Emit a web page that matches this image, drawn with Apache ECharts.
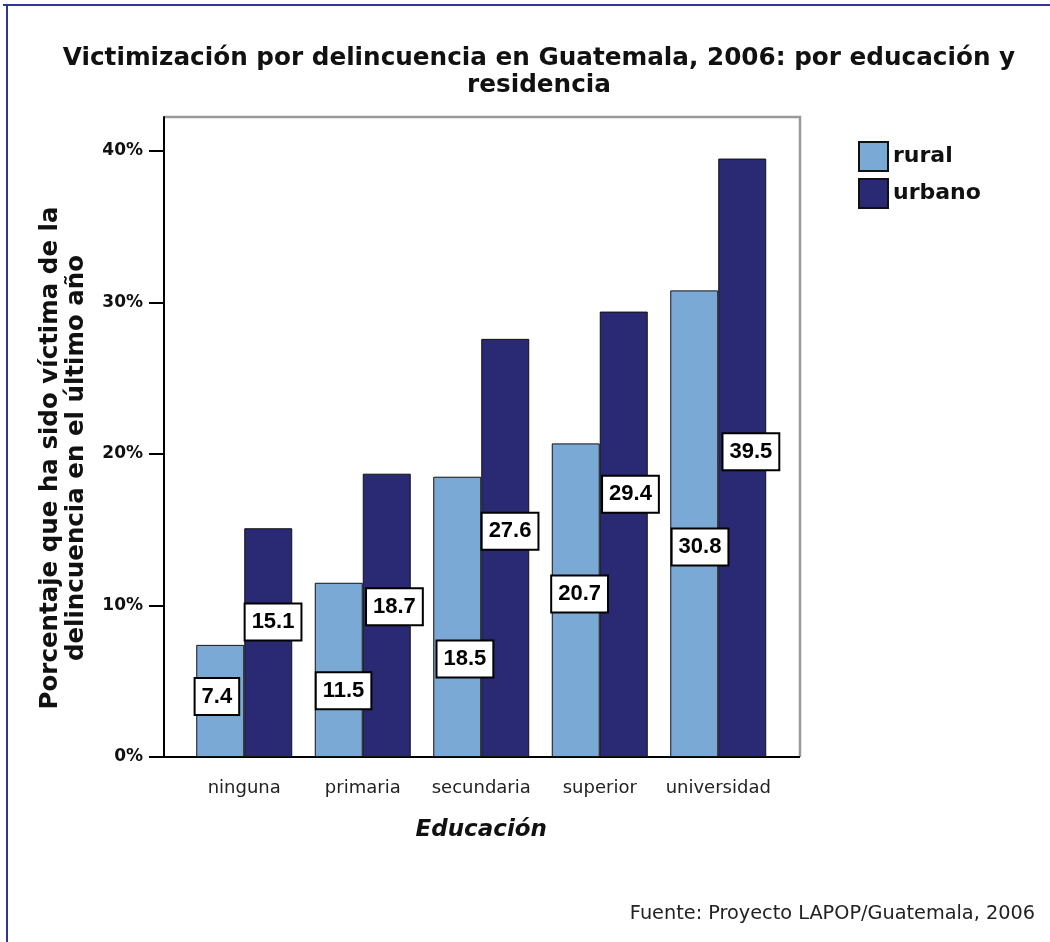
<!DOCTYPE html>
<html>
<head>
<meta charset="utf-8">
<script src="https://cdn.jsdelivr.net/npm/echarts@6/dist/echarts.min.js"></script>
<style>
  html, body { margin: 0; padding: 0; background: #fff; }
  #chart1 { width: 1050px; height: 942px; }
</style>
</head>
<body>
<div id="chart1"></div>
<script>
// datos
var categorias = ['ninguna', 'primaria', 'secundaria', 'superior', 'universidad'];
var rural = [7.4, 11.5, 18.5, 20.7, 30.8];
var urbano = [15.1, 18.7, 27.6, 29.4, 39.5];
var yTicks = [0, 10, 20, 30, 40];

// marco del grafico (px)
var frameL = 164, frameR = 800, frameT = 117, frameB = 757;
var bandL = 185, bandR = 777.5;

var myChart = echarts.init(document.getElementById('chart1'));

// posicion de las etiquetas dentro de cada barra [x%, y%]
var posRural = [['43%', '46%'], ['60%', '62%'], ['66%', '65%'], ['58%', '48%'], ['62%', '55%']];
var posUrbano = [['60%', '41%'], ['66%', '47%'], ['60%', '46%'], ['64%', '41%'], ['68%', '49%']];

function itemsCon(valores, pos) {
    var out = [];
    for (var i = 0; i < valores.length; i++) {
        out.push({ value: valores[i], label: { position: pos[i] } });
    }
    return out;
}

var etiqueta = {
    show: true,
    align: 'center',
    verticalAlign: 'middle',
    formatter: function (p) { return p.value.toFixed(1); },
    fontFamily: 'Liberation Sans',
    fontWeight: 'bold',
    fontSize: 22,
    color: '#000',
    backgroundColor: '#fff',
    borderColor: '#000',
    borderWidth: 2,
    padding: [7, 6, 6, 6]
};

myChart.setOption({
    backgroundColor: '#fff',
    animation: false,
    title: [{
        text: 'Victimización por delincuencia en Guatemala, 2006: por educación y\nresidencia',
        left: 534,
        top: 40,
        textAlign: 'center',
        textStyle: {
            fontFamily: 'DejaVu Sans',
            fontWeight: 'bold',
            fontSize: 24.7,
            lineHeight: 27,
            color: '#111'
        }
    }, {
        text: 'Fuente: Proyecto LAPOP/Guatemala, 2006',
        right: 10,
        top: 899,
        textStyle: {
            fontFamily: 'DejaVu Sans',
            fontWeight: 'normal',
            fontSize: 19.3,
            color: '#222'
        }
    }],
    legend: {
        orient: 'vertical',
        left: 858,
        top: 141,
        padding: 0,
        itemWidth: 29,
        itemHeight: 29,
        itemGap: 6,
        icon: 'rect',
        textStyle: {
            fontFamily: 'DejaVu Sans',
            fontWeight: 'bold',
            fontSize: 22,
            color: '#111'
        },
        data: ['rural', 'urbano']
    },
    grid: {
        left: bandL,
        right: 1050 - bandR,
        top: frameT,
        bottom: 942 - frameB
    },
    xAxis: {
        type: 'category',
        data: categorias,
        name: 'Educación',
        nameLocation: 'middle',
        nameGap: 62,
        nameTextStyle: {
            fontFamily: 'DejaVu Sans',
            fontWeight: 'bold',
            fontStyle: 'italic',
            fontSize: 23,
            color: '#111'
        },
        axisLine: { lineStyle: { color: '#000', width: 2 } },
        axisTick: { alignWithLabel: true, length: 15, lineStyle: { color: '#000', width: 1.5 } },
        axisLabel: {
            interval: 0,
            margin: 22,
            fontFamily: 'DejaVu Sans',
            fontSize: 18,
            color: '#222'
        }
    },
    yAxis: {
        type: 'value',
        min: 0,
        max: (frameB - frameT) / ((frameB - 151) / 40),
        interval: 10,
        offset: bandL - frameL,
        splitLine: { show: false },
        axisLine: { show: true, lineStyle: { color: '#000', width: 2 } },
        axisTick: { show: true, length: 15, customValues: yTicks, lineStyle: { color: '#000', width: 2 } },
        axisLabel: {
            margin: 21,
            customValues: yTicks,
            formatter: '{value}%',
            fontFamily: 'DejaVu Sans',
            fontWeight: 'bold',
            fontSize: 17,
            color: '#111'
        }
    },
    graphic: [
        // marco gris superior y derecho
        { type: 'polyline', z: 0, shape: { points: [[frameL, frameT], [frameR, frameT], [frameR, frameB]] },
          style: { stroke: '#9a9a9a', lineWidth: 2.5, fill: null } },
        { type: 'line', z: 0, shape: { x1: frameL, y1: frameB, x2: frameR, y2: frameB },
          style: { stroke: '#000', lineWidth: 2 } },
        // borde azul de la imagen
        { type: 'line', shape: { x1: 3, y1: 5, x2: 1050, y2: 5 }, style: { stroke: '#333399', lineWidth: 2 } },
        { type: 'line', shape: { x1: 7, y1: 4, x2: 7, y2: 942 }, style: { stroke: '#333399', lineWidth: 2 } },
        // titulo del eje y
        { type: 'text', x: 64, y: 458, rotation: Math.PI / 2,
          style: {
              text: 'Porcentaje que ha sido víctima de la\ndelincuencia en el último año',
              align: 'center', verticalAlign: 'middle',
              font: 'bold 24.5px "DejaVu Sans"', lineHeight: 26, fill: '#111'
          } }
    ],
    series: [{
        name: 'rural',
        type: 'bar',
        barGap: '0%',
        barCategoryGap: '19%',
        itemStyle: { color: '#7ba9d6', borderColor: '#111', borderWidth: 1 },
        label: etiqueta,
        data: itemsCon(rural, posRural)
    }, {
        name: 'urbano',
        type: 'bar',
        barGap: '0%',
        barCategoryGap: '19%',
        itemStyle: { color: '#292a73', borderColor: '#111', borderWidth: 1 },
        label: etiqueta,
        data: itemsCon(urbano, posUrbano)
    }]
});
</script>
</body>
</html>
